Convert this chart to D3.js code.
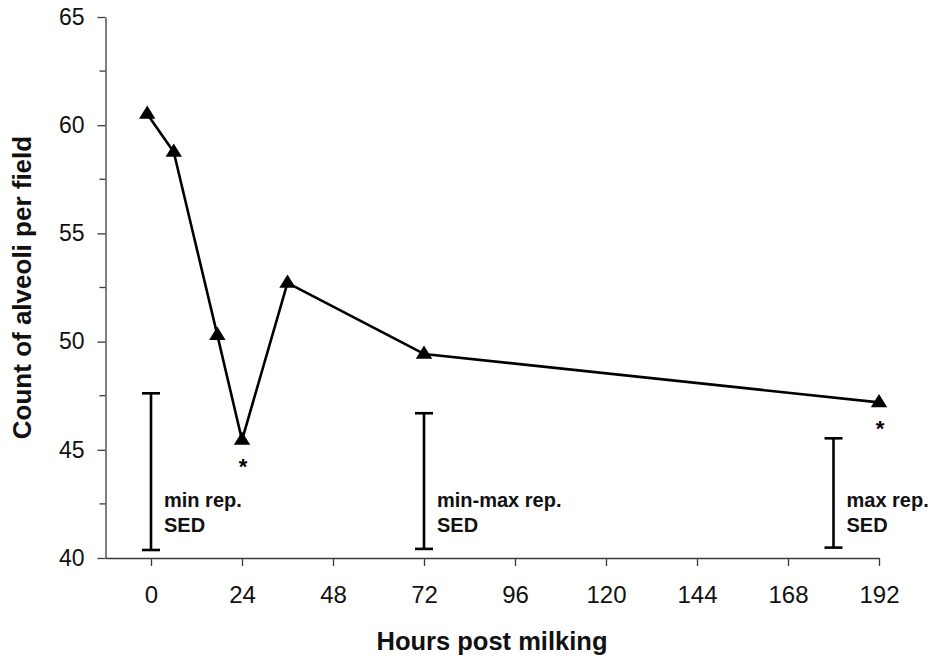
<!DOCTYPE html>
<html>
<head>
<meta charset="utf-8">
<script src="https://cdn.jsdelivr.net/npm/d3@7"></script>
<style>
  html, body { margin: 0; padding: 0; background: #fff; }
  svg { display: block; font-family: "Liberation Sans", Arial, Helvetica, sans-serif; }
</style>
</head>
<body>
<svg id="chart" width="935" height="659"></svg>
<script>
// ---- data ----
const hours  = [-1, 6, 17.5, 24, 36, 72, 192];
const counts = [60.52, 58.76, 50.3, 45.45, 52.71, 49.43, 47.19];
const significant = [false, false, false, true, false, false, true];

const sedLabels1 = ["min rep.", "min-max rep.", "max rep."];
const sedLabels2 = ["SED", "SED", "SED"];
const sedHours   = [0, 72, 180];
const sedTop     = [47.61, 46.69, 45.53];
const sedBottom  = [40.37, 40.42, 40.48];

const xTicks = [0, 24, 48, 72, 96, 120, 144, 168, 192];
const yTicks = [40, 45, 50, 55, 60, 65];
const yMinorTicks = [42.5, 47.5, 52.5, 57.5, 62.5];

const xTitle = "Hours post milking";
const yTitle = "Count of alveoli per field";

// ---- layout ----
const svg = d3.select("#chart");
const x = d3.scaleLinear().domain([-12, 192]).range([105.5, 879]);
const y = d3.scaleLinear().domain([40, 65]).range([558, 17]);
const axisColor = "#3a3a3a";

// y axis
const yAxisG = svg.append("g").attr("transform", `translate(${x(-12)},0)`)
  .call(d3.axisLeft(y).tickValues(yTicks).tickSize(8).tickSizeOuter(0).tickPadding(13).tickFormat(d3.format("d")));
yAxisG.select(".domain").attr("stroke", axisColor).attr("stroke-width", 1.3);
yAxisG.selectAll(".tick line").attr("stroke", axisColor).attr("stroke-width", 1.3);
yAxisG.selectAll(".tick text").attr("font-size", 23).attr("fill", "#111")
  .attr("font-family", "'Liberation Sans', Arial, sans-serif");
yAxisG.selectAll(".minor").data(yMinorTicks).enter().append("line")
  .attr("class", "minor")
  .attr("x1", -6).attr("x2", 0)
  .attr("y1", d => y(d)).attr("y2", d => y(d))
  .attr("stroke", axisColor).attr("stroke-width", 1.3);

// x axis
const xAxisG = svg.append("g").attr("transform", `translate(0,${y(40)})`)
  .call(d3.axisBottom(x).tickValues(xTicks).tickSize(8).tickSizeOuter(0).tickPadding(20).tickFormat(d3.format("d")));
xAxisG.select(".domain").attr("stroke", axisColor).attr("stroke-width", 1.3);
xAxisG.selectAll(".tick line").attr("stroke", axisColor).attr("stroke-width", 1.3);
xAxisG.selectAll(".tick text").attr("font-size", 24).attr("fill", "#111")
  .attr("font-family", "'Liberation Sans', Arial, sans-serif");

// axis titles
svg.append("text")
  .attr("x", 492).attr("y", 650)
  .attr("text-anchor", "middle").attr("font-size", 25.5).attr("font-weight", "bold")
  .attr("fill", "#111").text(xTitle);

svg.append("text")
  .attr("transform", `translate(31,${(y(40) + y(65)) / 2}) rotate(-90)`)
  .attr("text-anchor", "middle").attr("font-size", 26).attr("font-weight", "bold")
  .attr("fill", "#111").text(yTitle);

// line
const pts = hours.map((h, i) => ({ h, v: counts[i], sig: significant[i] }));
svg.append("path").datum(pts)
  .attr("d", d3.line().x(d => x(d.h)).y(d => y(d.v)))
  .attr("fill", "none").attr("stroke", "#000").attr("stroke-width", 2.6)
  .attr("stroke-linejoin", "round");

// triangle markers
svg.selectAll(".marker").data(pts).enter().append("path")
  .attr("class", "marker")
  .attr("transform", d => `translate(${x(d.h)},${y(d.v)})`)
  .attr("d", "M0,-8.5 L8.2,4.8 L-8.2,4.8 Z")
  .attr("fill", "#000");

// asterisks
svg.selectAll(".star").data(pts.filter(d => d.sig)).enter().append("text")
  .attr("class", "star")
  .attr("x", d => x(d.h) + 1).attr("y", d => y(d.v) + 34)
  .attr("text-anchor", "middle").attr("font-size", 22).attr("font-weight", "bold")
  .attr("fill", "#000").text("*");

// SED bars
const sed = sedHours.map((h, i) => ({ h, top: sedTop[i], bot: sedBottom[i], l1: sedLabels1[i], l2: sedLabels2[i] }));
const sedG = svg.selectAll(".sed").data(sed).enter().append("g").attr("class", "sed");
sedG.append("line")
  .attr("x1", d => x(d.h)).attr("x2", d => x(d.h))
  .attr("y1", d => y(d.top)).attr("y2", d => y(d.bot))
  .attr("stroke", "#000").attr("stroke-width", 2.6);
sedG.append("line")
  .attr("x1", d => x(d.h) - 9).attr("x2", d => x(d.h) + 9)
  .attr("y1", d => y(d.top)).attr("y2", d => y(d.top))
  .attr("stroke", "#000").attr("stroke-width", 2.6);
sedG.append("line")
  .attr("x1", d => x(d.h) - 9).attr("x2", d => x(d.h) + 9)
  .attr("y1", d => y(d.bot)).attr("y2", d => y(d.bot))
  .attr("stroke", "#000").attr("stroke-width", 2.6);
sedG.append("text")
  .attr("x", d => x(d.h) + 13).attr("y", 507)
  .attr("font-size", 20).attr("font-weight", "bold").attr("fill", "#111")
  .text(d => d.l1);
sedG.append("text")
  .attr("x", d => x(d.h) + 13).attr("y", 532)
  .attr("font-size", 20).attr("font-weight", "bold").attr("fill", "#111")
  .text(d => d.l2);
</script>
</body>
</html>
